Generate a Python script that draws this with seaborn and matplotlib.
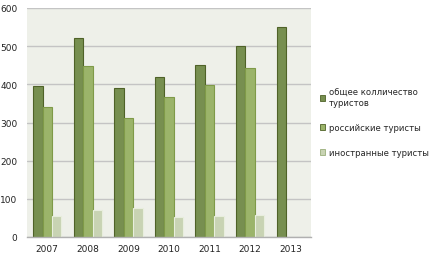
# grouped bar chart: tourists per year (total / russian / foreign)
import matplotlib
matplotlib.use("Agg")
import matplotlib.pyplot as plt
import seaborn as sns
import numpy as np
import pandas as pd

years = ["2007", "2008", "2009", "2010", "2011", "2012", "2013"]
total = [396, 521, 391, 420, 451, 501, 551]
russian = [341, 448, 312, 368, 397, 443, np.nan]
foreign = [54, 72, 77, 52, 54, 58, np.nan]

series = ["общее колличество\nтуристов", "российские туристы", "иностранные туристы"]

data = pd.DataFrame({
    "year": years * 3,
    "value": total + russian + foreign,
    "series": [series[0]] * 7 + [series[1]] * 7 + [series[2]] * 7,
})

palette = {series[0]: "#7a9a45", series[1]: "#9fc05e", series[2]: "#c9d9ad"}
edges = ["#4f6228", "#7f9a48", "#e8eedd"]

sns.set_style("white")
plt.rcParams["font.family"] = ["DejaVu Sans"]

fig = plt.figure(figsize=(4.39, 2.55), dpi=100)
ax = fig.add_axes([27 / 439, 17 / 255, 284 / 439, 229 / 255])
ax.set_facecolor("#eef0e9")

sns.barplot(data=data, x="year", y="value", hue="series", palette=palette,
            width=0.7, ax=ax, legend=True)

# bar outlines per series
for cont, ec in zip(ax.containers, edges):
    for bar in cont:
        bar.set_edgecolor(ec)
        bar.set_linewidth(0.8)

ax.set_ylim(0, 600)
ax.set_xlim(-0.5, 6.5)
ax.set_yticks(range(0, 601, 100))
ax.yaxis.grid(True, color="#c4c4c4", linewidth=1)
ax.set_axisbelow(True)
ax.tick_params(axis="both", length=0, labelsize=6.5, colors="#222222")
ax.tick_params(axis="y", pad=7)
ax.tick_params(axis="x", pad=5)
ax.set_xlabel("")
ax.set_ylabel("")
for side in ["top", "right", "left"]:
    ax.spines[side].set_visible(False)
ax.spines["bottom"].set_color("#b0b0b0")
ax.spines["bottom"].set_linewidth(1)

handles, labels = ax.get_legend_handles_labels()
leg = ax.legend(handles, labels, loc="center left", bbox_to_anchor=(1.03, 0.5),
                frameon=False, fontsize=6.1, handlelength=0.7, handleheight=0.7,
                handletextpad=0.4, labelspacing=1.9, borderpad=0, borderaxespad=0)
for h, ec in zip(leg.legend_handles, edges):
    h.set_edgecolor("#4f6228" if ec != edges[2] else "#9aae7a")
    h.set_linewidth(0.6)

fig.savefig("out.png", dpi=100)
